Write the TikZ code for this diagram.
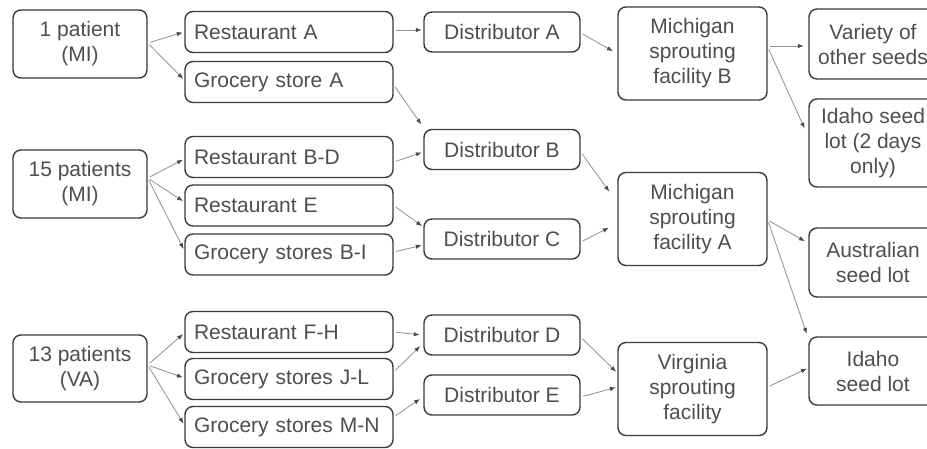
\documentclass[tikz,border=0pt]{standalone}
\usepackage{fontspec}
\setmainfont{Liberation Sans}
\usetikzlibrary{arrows.meta}
\definecolor{boxc}{HTML}{3A3A3A}
\definecolor{txtc}{HTML}{4E4E4E}
\definecolor{arrc}{HTML}{949494}
\definecolor{tipc}{HTML}{4A4A4A}
\begin{document}
\begin{tikzpicture}[x=1pt,y=-1pt,
 box/.style={draw=boxc, line width=1.4pt, rounded corners=8pt, text=txtc,
   font=\fontsize{21}{25}\selectfont, inner sep=0pt, align=center},
 pat/.style={box, minimum width=134pt, minimum height=68pt},
 shop/.style={box, minimum width=208pt, minimum height=41pt, text width=190pt, align=left},
 dist/.style={box, minimum width=156pt, minimum height=40pt},
 fac/.style={box, minimum width=149pt, minimum height=93pt},
 seed/.style={box, minimum width=128pt},
 arr/.style={draw=arrc, line width=0.85pt, -{Latex[length=6pt,width=4.5pt,color=tipc]},
   shorten <=2.5pt, shorten >=1.5pt}
]
\useasboundingbox (0,0) rectangle (927,449);
\fill[white] (0,0) rectangle (927,449);
\clip (0,0) rectangle (927,449);

% patients
\node[pat] (p1) at (80,44) {1 patient\\(MI)};
\node[pat] (p15) at (80,184) {15 patients\\(MI)};
\node[pat,minimum height=67pt] (p13) at (80,368.5) {13 patients\\(VA)};

% restaurants / stores
\node[shop] (rA) at (289,32) {Restaurant A};
\node[shop] (gA) at (289,82) {Grocery store A};
\node[shop] (rBD) at (289,157) {Restaurant B-D};
\node[shop] (rE) at (289,205.5) {Restaurant E};
\node[shop] (gBI) at (289,254.5) {Grocery stores B-I};
\node[shop] (rFH) at (289,332) {Restaurant F-H};
\node[shop] (gJL) at (289,379) {Grocery stores J-L};
\node[shop] (gMN) at (289,427) {Grocery stores M-N};

% distributors
\node[dist] (dA) at (502,32) {Distributor A};
\node[dist] (dB) at (502,149.5) {Distributor B};
\node[dist] (dC) at (502,239) {Distributor C};
\node[dist] (dD) at (502,335) {Distributor D};
\node[dist] (dE) at (502,395) {Distributor E};

% facilities
\node[fac] (mB) at (692.5,53.5) {Michigan\\sprouting\\facility B};
\node[fac] (mA) at (692.5,219) {Michigan\\sprouting\\facility A};
\node[fac] (va) at (692.5,389) {Virginia\\sprouting\\facility};

% seeds
\node[seed,minimum height=70pt] (var) at (873,44) {Variety of\\other seeds};
\node[seed,minimum height=88pt] (id2) at (873,143) {Idaho seed\\lot (2 days\\only)};
\node[seed,minimum height=69pt] (aus) at (873,262.5) {Australian\\seed lot};
\node[seed,minimum height=68pt] (id) at (873,371) {Idaho\\seed lot};

% connectors
\draw[arr] ([yshift=1pt]p1.east) -- (rA.west);
\draw[arr] ([yshift=1pt]p1.east) -- ([yshift=2pt]gA.west);
\draw[arr] ([yshift=6pt]p15.east) -- ([yshift=-2pt]rBD.west);
\draw[arr] ([yshift=6pt]p15.east) -- ([yshift=3.5pt]rE.west);
\draw[arr] ([yshift=6pt]p15.east) -- ([yshift=4pt]gBI.west);
\draw[arr] ([yshift=3.5pt]p13.east) -- ([yshift=-1pt]rFH.west);
\draw[arr] ([yshift=3.5pt]p13.east) -- ([yshift=1pt]gJL.west);
\draw[arr] ([yshift=3.5pt]p13.east) -- ([yshift=2pt]gMN.west);

\draw[arr] ([yshift=2pt]rA.east) -- ([yshift=2pt]dA.west);
\draw[arr] ([yshift=-3pt]gA.east) -- ([xshift=-1pt,yshift=3pt]dB.north west);
\draw[arr] ([yshift=-5pt]rBD.east) -- ([yshift=-2.5pt]dB.west);
\draw[arr] (rE.east) -- ([yshift=12pt]dC.west);
\draw[arr] ([yshift=2.5pt]gBI.east) -- ([yshift=-6pt]dC.west);
\draw[arr] (rFH.east) -- ([xshift=-2pt]dD.west);
\draw[arr] ([yshift=7pt]gJL.east) -- ([xshift=-2pt,yshift=-10pt]dD.west);
\draw[arr] ([yshift=10pt]gMN.east) -- ([xshift=-2pt,yshift=-3pt]dE.west);

\draw[arr] ([yshift=-1pt]dA.east) -- ([xshift=-3pt,yshift=1.5pt]mB.west);
\draw[arr] ([yshift=-2.5pt]dB.east) -- ([xshift=-7pt,yshift=26pt]mA.west);
\draw[arr] ([yshift=-3pt]dC.east) -- ([xshift=-7pt,yshift=-8pt]mA.west);
\draw[arr] ([yshift=-2pt]dD.east) -- ([yshift=16pt]va.west);
\draw[arr] ([yshift=-2pt]dE.east) -- ([yshift=2pt]va.west);

\draw[arr] ([yshift=7.5pt]mB.east) -- ([xshift=-3pt,yshift=-2pt]var.west);
\draw[arr] ([yshift=6.5pt]mB.east) -- ([xshift=-3pt,yshift=13pt]id2.west);
\draw[arr] ([yshift=-1pt]mA.east) -- ([xshift=-2pt,yshift=20.5pt]aus.west);
\draw[arr] ([yshift=-1pt]mA.east) -- ([xshift=-1pt,yshift=1pt]id.north west);
\draw[arr] ([yshift=2pt]va.east) -- ([yshift=3pt]id.west);
\end{tikzpicture}
\end{document}
